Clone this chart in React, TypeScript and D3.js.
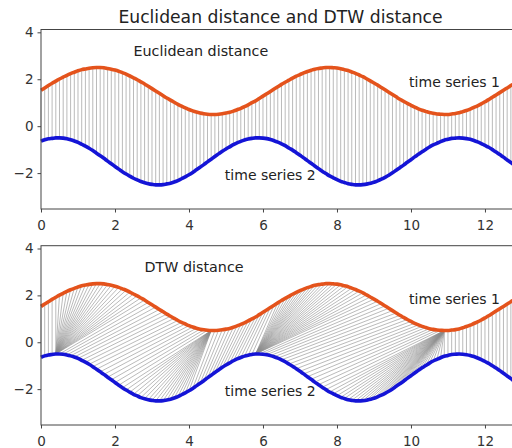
import * as d3 from 'd3'
import React, { useEffect, useRef } from 'react'

// samples are 0.1 apart on the x axis
const xStep = 0.1

const series1 = [
  1.53, 1.63, 1.73, 1.83, 1.92, 2.01, 2.09, 2.17, 2.24, 2.3, 2.36, 2.41, 2.44, 2.47, 2.49, 2.5, 2.5, 2.49, 2.46, 2.43,
  2.39, 2.34, 2.28, 2.22, 2.14, 2.06, 1.98, 1.89, 1.8, 1.7, 1.6, 1.5, 1.4, 1.3, 1.2, 1.11, 1.02, 0.93, 0.85, 0.78,
  0.71, 0.65, 0.6, 0.56, 0.53, 0.51, 0.5, 0.5, 0.51, 0.53, 0.56, 0.59, 0.64, 0.7, 0.76, 0.83, 0.91, 1.0, 1.08, 1.18,
  1.28, 1.38, 1.48, 1.58, 1.68, 1.78, 1.87, 1.96, 2.05, 2.13, 2.2, 2.27, 2.33, 2.38, 2.43, 2.46, 2.48, 2.5, 2.5, 2.49,
  2.48, 2.45, 2.41, 2.37, 2.31, 2.25, 2.18, 2.11, 2.02, 1.93, 1.84, 1.75, 1.65, 1.55, 1.45, 1.35, 1.25, 1.15, 1.06, 0.97,
  0.89, 0.81, 0.74, 0.68, 0.63, 0.58, 0.55, 0.52, 0.51, 0.5, 0.5, 0.52, 0.54, 0.57, 0.62, 0.67, 0.73, 0.8, 0.87, 0.95,
  1.04, 1.13, 1.23, 1.33, 1.43, 1.53, 1.63, 1.73, 1.82, 1.92,
]

const series2 = [
  -0.64, -0.58, -0.54, -0.52, -0.5, -0.5, -0.51, -0.54, -0.58, -0.63, -0.69, -0.77, -0.85, -0.94, -1.04, -1.15, -1.26, -1.37, -1.49, -1.6,
  -1.72, -1.83, -1.94, -2.04, -2.13, -2.22, -2.29, -2.36, -2.41, -2.45, -2.48, -2.5, -2.5, -2.49, -2.46, -2.43, -2.38, -2.32, -2.24, -2.16,
  -2.07, -1.97, -1.86, -1.75, -1.64, -1.52, -1.41, -1.29, -1.18, -1.07, -0.97, -0.88, -0.79, -0.71, -0.65, -0.59, -0.55, -0.52, -0.5, -0.5,
  -0.51, -0.53, -0.57, -0.62, -0.68, -0.75, -0.83, -0.93, -1.02, -1.13, -1.24, -1.35, -1.47, -1.58, -1.7, -1.81, -1.92, -2.02, -2.12, -2.2,
  -2.28, -2.35, -2.4, -2.45, -2.48, -2.5, -2.5, -2.49, -2.47, -2.43, -2.39, -2.33, -2.26, -2.18, -2.09, -1.99, -1.88, -1.77, -1.66, -1.54,
  -1.43, -1.31, -1.2, -1.09, -0.99, -0.89, -0.8, -0.73, -0.66, -0.6, -0.56, -0.52, -0.51, -0.5, -0.51, -0.53, -0.56, -0.61, -0.67, -0.74,
  -0.82, -0.9, -1.0, -1.1, -1.21, -1.32, -1.44, -1.55, -1.67, -1.78,
]

const xTicks = [0, 2, 4, 6, 8, 10, 12]
const yTicks = [-2, 0, 2, 4]

const title = 'Euclidean distance and DTW distance'
const panels = [
  { name: 'Euclidean distance', nameAt: [2.5, 3.0], top: 29.5, bottom: 209 },
  { name: 'DTW distance', nameAt: [2.8, 3.0], top: 245.7, bottom: 425 },
]
const seriesLabels = [
  { text: 'time series 1', at: [9.95, 1.65] },
  { text: 'time series 2', at: [4.97, -2.3] },
]

// dynamic time warping with squared differences
function dtwPath(a: number[], b: number[]) {
  const n = a.length
  const m = b.length
  const D: number[][] = []
  for (let i = 0; i < n; i++) {
    D.push(new Array(m).fill(Infinity))
    for (let j = 0; j < m; j++) {
      const cost = (a[i] - b[j]) ** 2
      if (i === 0 && j === 0) D[i][j] = cost
      else {
        const diag = i > 0 && j > 0 ? D[i - 1][j - 1] : Infinity
        const up = i > 0 ? D[i - 1][j] : Infinity
        const left = j > 0 ? D[i][j - 1] : Infinity
        D[i][j] = cost + Math.min(diag, up, left)
      }
    }
  }
  const path: [number, number][] = []
  let i = n - 1
  let j = m - 1
  path.push([i, j])
  while (i > 0 || j > 0) {
    if (i === 0) j--
    else if (j === 0) i--
    else {
      const diag = D[i - 1][j - 1]
      const up = D[i - 1][j]
      const left = D[i][j - 1]
      if (diag <= up && diag <= left) {
        i--
        j--
      } else if (up <= left) i--
      else j--
    }
    path.push([i, j])
  }
  return path.reverse()
}

export default function App() {
  const ref = useRef<SVGSVGElement>(null)

  useEffect(() => {
    if (!ref.current) return
    const svg = d3.select(ref.current)
    svg.selectAll('*').remove()

    const font = 'DejaVu Sans, sans-serif'
    const x = d3.scaleLinear().domain([0, 12.92]).range([41, 519])

    svg
      .append('text')
      .attr('x', 280.5)
      .attr('y', 22.5)
      .attr('text-anchor', 'middle')
      .attr('font-family', font)
      .attr('font-size', 17.2)
      .attr('fill', '#222')
      .text(title)

    const euclid: [number, number][] = series1.map((_, i) => [i, i])
    const warp = dtwPath(series1, series2)
    const pairsets = [euclid, warp]

    panels.forEach((p, k) => {
      const y = d3.scaleLinear().domain([-3.53, 4.12]).range([p.bottom, p.top])
      const g = svg.append('g')

      g.append('g')
        .selectAll('line')
        .data(pairsets[k])
        .join('line')
        .attr('x1', d => x(d[0] * xStep))
        .attr('y1', d => y(series1[d[0]]))
        .attr('x2', d => x(d[1] * xStep))
        .attr('y2', d => y(series2[d[1]]))
        .attr('stroke', '#8c8c8c')
        .attr('stroke-width', 0.6)

      const line = d3
        .line<number>()
        .x((_, i) => x(i * xStep))
        .y(d => y(d))
        .curve(d3.curveMonotoneX)

      g.append('path')
        .attr('d', line(series1))
        .attr('fill', 'none')
        .attr('stroke', '#e4531c')
        .attr('stroke-width', 3.6)
        .attr('stroke-linejoin', 'round')
      g.append('path')
        .attr('d', line(series2))
        .attr('fill', 'none')
        .attr('stroke', '#1414d6')
        .attr('stroke-width', 3.6)
        .attr('stroke-linejoin', 'round')

      // frame
      g.append('rect')
        .attr('x', x(0))
        .attr('y', p.top)
        .attr('width', x(12.92) - x(0))
        .attr('height', p.bottom - p.top)
        .attr('fill', 'none')
        .attr('stroke', '#444')
        .attr('stroke-width', 1)

      const xa = g
        .append('g')
        .attr('transform', `translate(0,${p.bottom})`)
        .call(d3.axisBottom(x).tickValues(xTicks).tickSize(3.5).tickSizeOuter(0).tickPadding(7.5))
      const ya = g
        .append('g')
        .attr('transform', `translate(${x(0)},0)`)
        .call(
          d3
            .axisLeft(y)
            .tickValues(yTicks)
            .tickSize(3.5)
            .tickSizeOuter(0)
            .tickPadding(4)
            .tickFormat(d => d3.format('d')(d as number).replace('-', '\u2212'))
        )
      for (const a of [xa, ya]) {
        a.select('.domain').remove()
        a.selectAll('line').attr('stroke', '#444')
        a.selectAll('text').attr('font-family', font).attr('font-size', 13.5).attr('fill', '#333')
      }

      g.append('text')
        .attr('x', x(p.nameAt[0]))
        .attr('y', y(p.nameAt[1]))
        .attr('font-family', font)
        .attr('font-size', 14.3)
        .attr('fill', '#222')
        .text(p.name)

      g.selectAll('text.series')
        .data(seriesLabels)
        .join('text')
        .attr('class', 'series')
        .attr('x', d => x(d.at[0]))
        .attr('y', d => y(d.at[1]))
        .attr('font-family', font)
        .attr('font-size', 14)
        .attr('fill', '#222')
        .text(d => d.text)
    })
  }, [])

  return (
    <svg
      ref={ref}
      width={512}
      height={448}
      style={{ position: 'absolute', left: 0, top: 0, background: '#fff' }}
    />
  )
}
